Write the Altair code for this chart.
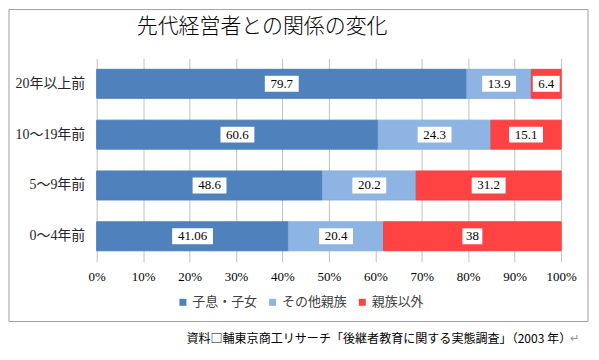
import altair as alt
import pandas as pd

periods = ["20年以上前", "10～19年前", "5～9年前", "0～4年前"]
types = ["子息・子女", "その他親族", "親族以外"]
v_kids = [79.7, 60.6, 48.6, 41.06]
v_rel = [13.9, 24.3, 20.2, 20.4]
v_non = [6.4, 15.1, 31.2, 38]
colors = ["#4F81BD", "#8DB4E2", "#FF4343"]
edges = ["#4A7EBB", "#86AEDD", "#F53E3E"]
x_ticks = [0, 0.1, 0.2, 0.3, 0.4, 0.5, 0.6, 0.7, 0.8, 0.9, 1.0]
title_text = "先代経営者との関係の変化"
source_text = "資料□輔東京商工リサーチ「後継者教育に関する実態調査」（2003 年）"

W, H = 466, 204
SERIF = "'Liberation Serif', 'Times New Roman', 'Noto Sans CJK JP', serif"
JP = "'Noto Sans CJK JP'"

rows = []
for i, p in enumerate(periods):
    for j, (t, vals) in enumerate(zip(types, [v_kids, v_rel, v_non])):
        rows.append({"period": p, "type": t, "value": vals[i], "order": j,
                     "label": str(vals[i])})
df = pd.DataFrame(rows)

y_enc = alt.Y("period:N", sort=periods,
              scale=alt.Scale(paddingInner=0.43, paddingOuter=0.215),
              axis=alt.Axis(title=None, domain=False, ticks=False, grid=False,
                            labelPadding=12, labelFont=SERIF, labelFontSize=14,
                            labelColor="#262626"))

bars = alt.Chart(df).mark_bar(strokeWidth=1).encode(
    x=alt.X("value:Q", stack="normalize", scale=alt.Scale(domain=[0, 1]),
            axis=alt.Axis(title=None, values=x_ticks, format=".0%", grid=True,
                          gridColor="#C0C0C0", domain=False, ticks=False,
                          labelFlush=False, labelPadding=9, labelFont=SERIF,
                          labelFontSize=13, labelColor="#000000")),
    y=y_enc,
    color=alt.Color("type:N", scale=alt.Scale(domain=types, range=colors),
                    legend=alt.Legend(title=None, orient="none", legendX=80,
                                      legendY=238, direction="horizontal",
                                      symbolType="square", symbolSize=49,
                                      symbolStrokeWidth=0, labelFont=JP,
                                      labelFontSize=13, labelColor="#404040",
                                      columnPadding=8, labelOffset=3)),
    stroke=alt.Stroke("type:N", scale=alt.Scale(domain=types, range=edges),
                      legend=None),
    order=alt.Order("order:Q"),
)

base = alt.Chart(df).transform_joinaggregate(
    total="sum(value)", groupby=["period"]
).transform_window(
    cum="sum(value)", sort=[alt.SortField("order")], groupby=["period"],
    frame=[None, 0]
).transform_calculate(
    mid="(datum.cum - datum.value/2)/datum.total",
    hw=f"(length(datum.label)*7+6)/2/{W}",
).transform_calculate(
    x0="datum.mid - datum.hw", x1="datum.mid + datum.hw"
)

boxes = base.mark_bar(size=16, color="white").encode(
    x="x0:Q", x2="x1:Q", y=alt.Y("period:N", sort=periods)
)
texts = base.mark_text(font=SERIF, fontSize=13, color="#000000").encode(
    x="mid:Q", y=alt.Y("period:N", sort=periods), text="label:N"
)

one = pd.DataFrame({"t": [title_text], "s": [source_text], "r": ["↵"]})
frame = alt.Chart(one).mark_rect(fillOpacity=0, stroke="#A0A0A0",
                                 strokeWidth=1).encode(
    x=alt.value(-88), x2=alt.value(493), y=alt.value(-49), y2=alt.value(264)
)
title = alt.Chart(one).mark_text(font=JP, fontSize=21, fontWeight=300,
                                 color="#000000").encode(
    x=alt.value(166), y=alt.value(-31), text="t:N"
)
source = alt.Chart(one).mark_text(font=JP, fontSize=12.1, align="left",
                                  color="#000000").encode(
    x=alt.value(90), y=alt.value(282), text="s:N"
)
ret = alt.Chart(one).mark_text(font=JP, fontSize=11, align="left",
                               color="#909090").encode(
    x=alt.value(475), y=alt.value(282), text="r:N"
)

chart = alt.layer(frame, bars, boxes, texts, title, source, ret).properties(
    width=W, height=H,
    padding={"left": 89, "top": 50, "right": 30, "bottom": 86},
    autosize=alt.AutoSizeParams(type="none"),
    background="white",
).configure_view(strokeWidth=0)

chart.save("out.html", embed_options={"renderer": "svg", "actions": False})
